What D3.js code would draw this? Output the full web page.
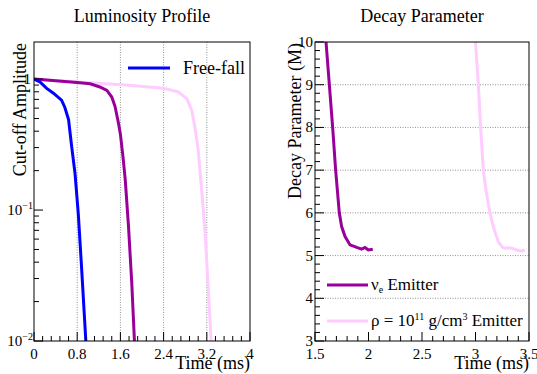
<!DOCTYPE html>
<html>
<head>
<meta charset="utf-8">
<script src="https://cdn.jsdelivr.net/npm/d3@7"></script>
<style>
  body { margin: 0; background: #fff; }
</style>
</head>
<body>
<div id="chart"></div>
<script>
// ---- data ----
var lumTicks = [0, 0.8, 1.6, 2.4, 3.2, 4];
var lumTickLabels = ["0", "0.8", "1.6", "2.4", "3.2", "4"];

var freeFallT = [0, 0.11, 0.235, 0.36, 0.51, 0.57, 0.64, 0.70, 0.76, 0.82, 0.88, 0.96];
var freeFallA = [1, 0.95, 0.85, 0.78, 0.69, 0.61, 0.49, 0.30, 0.19, 0.094, 0.037, 0.01];

var nueLumT = [0, 0.4, 0.8, 1.04, 1.22, 1.35, 1.44, 1.5, 1.56, 1.60, 1.65, 1.69, 1.75, 1.81, 1.86];
var nueLumA = [1, 0.97, 0.94, 0.92, 0.87, 0.82, 0.73, 0.62, 0.47, 0.38, 0.25, 0.17, 0.075, 0.028, 0.01];

var rhoLumT = [0, 0.8, 1.7, 2.40, 2.67, 2.83, 2.92, 2.98, 3.04, 3.10, 3.17, 3.23, 3.28];
var rhoLumA = [1, 0.95, 0.90, 0.85, 0.80, 0.71, 0.58, 0.43, 0.29, 0.15, 0.066, 0.024, 0.01];

var decTicks = [1.5, 2, 2.5, 3, 3.5];
var decTickLabels = ["1.5", "2", "2.5", "3", "3.5"];
var massTicks = [3, 4, 5, 6, 7, 8, 9, 10];

var nueDecT = [1.603, 1.634, 1.665, 1.693, 1.727, 1.749, 1.78, 1.827, 1.89, 1.936, 1.967, 1.998, 2.04];
var nueDecM = [10, 9, 8, 7, 6, 5.68, 5.45, 5.25, 5.19, 5.15, 5.19, 5.13, 5.15];

var rhoDecT = [3.0, 3.027, 3.048, 3.073, 3.10, 3.135, 3.167, 3.213, 3.25, 3.276, 3.31, 3.338, 3.385, 3.43, 3.46];
var rhoDecM = [10, 9, 8, 7, 6.5, 6, 5.67, 5.32, 5.2, 5.17, 5.18, 5.17, 5.13, 5.11, 5.13];

var blue = "#0000ff", purple = "#990099", pink = "#ffccff";
var serif = "'Liberation Serif', 'Times New Roman', Times, 'DejaVu Serif', serif";

var svg = d3.select("#chart").append("svg")
    .attr("width", 537)
    .attr("height", 374)
    .attr("font-family", serif)
    .style("font-family", serif);

function zip(xs, ys) { return xs.map(function(d, i) { return [d, ys[i]]; }); }

// ================= left panel: luminosity =================
var L = {left: 34, right: 250, top: 42, bottom: 341};
var xL = d3.scaleLinear().domain([0, 4]).range([L.left, L.right]);
var yL = d3.scaleLog().domain([0.01, 1.92]).range([L.bottom, L.top]);

svg.append("defs").append("clipPath").attr("id", "clipL")
  .append("rect").attr("x", L.left).attr("y", L.top)
  .attr("width", L.right - L.left).attr("height", L.bottom - L.top);

// vertical grid
svg.append("g").selectAll("line")
  .data(lumTicks.slice(1, -1)).enter().append("line")
    .attr("x1", function(d) { return xL(d); }).attr("x2", function(d) { return xL(d); })
    .attr("y1", L.top).attr("y2", L.bottom)
    .attr("stroke", "#777").attr("stroke-width", 0.8).attr("stroke-dasharray", "1,1.5");

var lineL = d3.line().x(function(d) { return xL(d[0]); }).y(function(d) { return yL(d[1]); });
var gL = svg.append("g").attr("clip-path", "url(#clipL)");
[[rhoLumT, rhoLumA, pink], [nueLumT, nueLumA, purple], [freeFallT, freeFallA, blue]].forEach(function(s) {
  gL.append("path").datum(zip(s[0], s[1]))
    .attr("d", lineL).attr("fill", "none")
    .attr("stroke", s[2]).attr("stroke-width", 3);
});

// x ticks
var xMinorL = d3.range(0, 4.001, 0.16);
svg.append("g").selectAll("line").data(xMinorL).enter().append("line")
  .attr("x1", function(d) { return xL(d); }).attr("x2", function(d) { return xL(d); })
  .attr("y1", L.bottom).attr("y2", function(d, i) { return L.bottom - (i % 5 === 0 ? 9 : 5); })
  .attr("stroke", "#000");
svg.append("g").selectAll("text").data(lumTicks).enter().append("text")
  .attr("x", function(d) { return xL(d); }).attr("y", 359)
  .attr("text-anchor", "middle").style("font-size", "15px")
  .text(function(d, i) { return lumTickLabels[i]; });

// y log ticks
var yMinorL = [];
[0.01, 0.1, 1].forEach(function(b) { for (var k = 1; k <= 9; k++) if (b * k <= 1.92) yMinorL.push(b * k); });
svg.append("g").selectAll("line").data(yMinorL).enter().append("line")
  .attr("x1", L.left).attr("x2", function(d) {
    var m = Math.abs(Math.log10(d) - Math.round(Math.log10(d))) < 1e-6;
    return L.left + (m ? 9 : 5);
  })
  .attr("y1", function(d) { return yL(d); }).attr("y2", function(d) { return yL(d); })
  .attr("stroke", "#000");
var yLab = svg.append("g");
yLab.append("text").attr("x", 31).attr("y", yL(1) + 5).attr("text-anchor", "end")
  .style("font-size", "15px").text("1");
[[0.1, "\u22121"], [0.01, "\u22122"]].forEach(function(p) {
  var t = yLab.append("text").attr("x", 33).attr("y", yL(p[0]) + 5).attr("text-anchor", "end")
    .style("font-size", "15px");
  t.append("tspan").text("10");
  t.append("tspan").attr("dy", -6).style("font-size", "10px").text(p[1]);
});

svg.append("rect").attr("x", L.left).attr("y", L.top)
  .attr("width", L.right - L.left).attr("height", L.bottom - L.top)
  .attr("fill", "none").attr("stroke", "#000");

svg.append("text").attr("x", 142).attr("y", 22).attr("text-anchor", "middle")
  .style("font-size", "18px").text("Luminosity Profile");
svg.append("text").attr("x", L.right).attr("y", 369).attr("text-anchor", "end")
  .style("font-size", "18px").text("Time (ms)");
svg.append("text").attr("transform", "translate(26,43) rotate(-90)")
  .attr("text-anchor", "end").style("font-size", "18px").text("Cut-off Amplitude");

// legend
svg.append("line").attr("x1", 128).attr("x2", 170).attr("y1", 68).attr("y2", 68)
  .attr("stroke", blue).attr("stroke-width", 3);
svg.append("text").attr("x", 183).attr("y", 74).style("font-size", "18px").text("Free-fall");

// ================= right panel: decay parameter =================
var R = {left: 315, right: 529, top: 42, bottom: 341};
var xR = d3.scaleLinear().domain([1.5, 3.5]).range([R.left, R.right]);
var yR = d3.scaleLinear().domain([3, 10]).range([R.bottom, R.top]);

svg.select("defs").append("clipPath").attr("id", "clipR")
  .append("rect").attr("x", R.left).attr("y", R.top)
  .attr("width", R.right - R.left).attr("height", R.bottom - R.top);

svg.append("g").selectAll("line")
  .data(massTicks.slice(1, -1)).enter().append("line")
    .attr("x1", R.left).attr("x2", R.right)
    .attr("y1", function(d) { return yR(d); }).attr("y2", function(d) { return yR(d); })
    .attr("stroke", "#777").attr("stroke-width", 0.8).attr("stroke-dasharray", "1,1.5");

var lineR = d3.line().x(function(d) { return xR(d[0]); }).y(function(d) { return yR(d[1]); });
var gR = svg.append("g").attr("clip-path", "url(#clipR)");
[[rhoDecT, rhoDecM, pink], [nueDecT, nueDecM, purple]].forEach(function(s) {
  gR.append("path").datum(zip(s[0], s[1]))
    .attr("d", lineR).attr("fill", "none")
    .attr("stroke", s[2]).attr("stroke-width", 3);
});

var xMinorR = d3.range(1.5, 3.5001, 0.1);
svg.append("g").selectAll("line").data(xMinorR).enter().append("line")
  .attr("x1", function(d) { return xR(d); }).attr("x2", function(d) { return xR(d); })
  .attr("y1", R.bottom).attr("y2", function(d, i) { return R.bottom - (i % 5 === 0 ? 9 : 5); })
  .attr("stroke", "#000");
svg.append("g").selectAll("text").data(decTicks).enter().append("text")
  .attr("x", function(d) { return xR(d); }).attr("y", 359)
  .attr("text-anchor", "middle").style("font-size", "15px")
  .text(function(d, i) { return decTickLabels[i]; });

var yMinorR = d3.range(3, 10.001, 0.2);
svg.append("g").selectAll("line").data(yMinorR).enter().append("line")
  .attr("x1", R.left).attr("x2", function(d, i) { return R.left + (i % 5 === 0 ? 9 : 5); })
  .attr("y1", function(d) { return yR(d); }).attr("y2", function(d) { return yR(d); })
  .attr("stroke", "#000");
svg.append("g").selectAll("text").data(massTicks).enter().append("text")
  .attr("x", 313).attr("y", function(d) { return yR(d) + 5; })
  .attr("text-anchor", "end").style("font-size", "15px")
  .text(function(d) { return d; });

svg.append("rect").attr("x", R.left).attr("y", R.top)
  .attr("width", R.right - R.left).attr("height", R.bottom - R.top)
  .attr("fill", "none").attr("stroke", "#000");

svg.append("text").attr("x", 422).attr("y", 22).attr("text-anchor", "middle")
  .style("font-size", "18px").text("Decay Parameter");
svg.append("text").attr("x", R.right).attr("y", 369).attr("text-anchor", "end")
  .style("font-size", "18px").text("Time (ms)");
svg.append("text").attr("transform", "translate(301,43) rotate(-90)")
  .attr("text-anchor", "end").style("font-size", "18px").text("Decay Parameter (M)");

// legend
svg.append("line").attr("x1", 327).attr("x2", 368).attr("y1", 285).attr("y2", 285)
  .attr("stroke", purple).attr("stroke-width", 3);
var t1 = svg.append("text").attr("x", 371).attr("y", 290).style("font-size", "17px");
t1.append("tspan").text("\u03bd");
t1.append("tspan").attr("dy", 3).style("font-size", "10px").text("e");
t1.append("tspan").attr("dy", -3).text(" Emitter");

svg.append("line").attr("x1", 327).attr("x2", 368).attr("y1", 321).attr("y2", 321)
  .attr("stroke", pink).attr("stroke-width", 3);
var t2 = svg.append("text").attr("x", 371).attr("y", 326).style("font-size", "17px");
t2.append("tspan").text("\u03c1 = 10");
t2.append("tspan").attr("dy", -6).style("font-size", "10px").text("11");
t2.append("tspan").attr("dy", 6).text(" g/cm");
t2.append("tspan").attr("dy", -6).style("font-size", "10px").text("3");
t2.append("tspan").attr("dy", 6).text(" Emitter");
</script>
</body>
</html>
